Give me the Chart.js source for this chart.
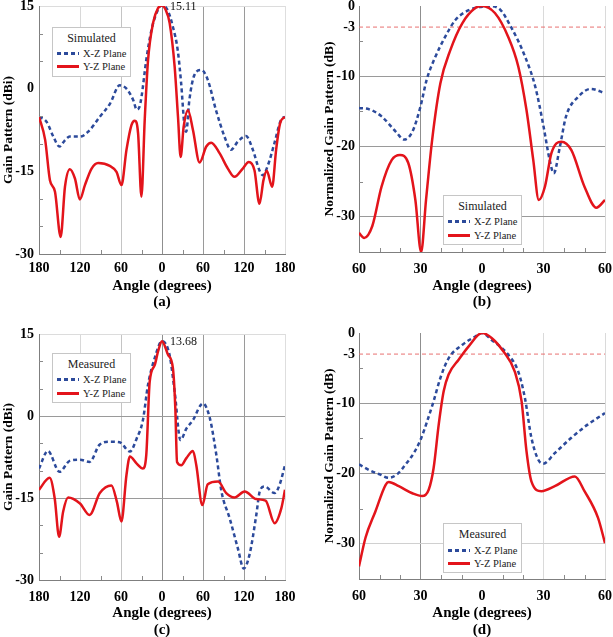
<!DOCTYPE html>
<html>
<head>
<meta charset="utf-8">
<script src="https://cdn.jsdelivr.net/npm/chart.js@4.4.1/dist/chart.umd.min.js"></script>
<style>
  body { margin: 0; background: #fff; width: 613px; height: 637px; position: relative; overflow: hidden;
         font-family: "Liberation Serif", "Times New Roman", serif; }
  canvas { position: absolute; }
  .legend { position: absolute; width: 77px; height: 48px; border: 1px solid #c6c6c6; background: #fff; color: #222; }
  .lg-title { position: absolute; left: 0; right: 0; top: 3px; text-align: center; font-size: 12px; line-height: 14px; }
  .lg-row { position: absolute; left: 4px; height: 13px; font-size: 10.5px; line-height: 13px; white-space: nowrap; }
  .lg-row span { position: absolute; left: 26px; top: 0; }
  .sw { position: absolute; left: 0; top: 5px; width: 22px; height: 3px; }
  .dash { background: repeating-linear-gradient(90deg, #2c4a9b 0 4px, transparent 4px 7px); }
  .solid { background: #e3141b; }
</style>
</head>
<body>
<canvas id="cA" width="300" height="310" style="left:0;top:0"></canvas>
<canvas id="cB" width="313" height="310" style="left:300px;top:0"></canvas>
<canvas id="cC" width="300" height="321" style="left:0;top:318px"></canvas>
<canvas id="cD" width="313" height="321" style="left:300px;top:318px"></canvas>

<div class="legend" style="left:52px;top:27px">
  <div class="lg-title">Simulated</div>
  <div class="lg-row" style="top:19px"><i class="sw dash"></i><span>X-Z Plane</span></div>
  <div class="lg-row" style="top:32px"><i class="sw solid"></i><span>Y-Z Plane</span></div>
</div>
<div class="legend" style="left:443px;top:195px">
  <div class="lg-title">Simulated</div>
  <div class="lg-row" style="top:19px"><i class="sw dash"></i><span>X-Z Plane</span></div>
  <div class="lg-row" style="top:33px"><i class="sw solid"></i><span>Y-Z Plane</span></div>
</div>
<div class="legend" style="left:52px;top:353px">
  <div class="lg-title">Measured</div>
  <div class="lg-row" style="top:19px"><i class="sw dash"></i><span>X-Z Plane</span></div>
  <div class="lg-row" style="top:33px"><i class="sw solid"></i><span>Y-Z Plane</span></div>
</div>
<div class="legend" style="left:443px;top:523px">
  <div class="lg-title">Measured</div>
  <div class="lg-row" style="top:20px"><i class="sw dash"></i><span>X-Z Plane</span></div>
  <div class="lg-row" style="top:33px"><i class="sw solid"></i><span>Y-Z Plane</span></div>
</div>

<script>
// (a) simulated gain, full circle
const angA_xz = [-180, -169, -159, -150, -143, -135, -120, -108, -91, -76, -62, -52, -42, -37, -33, -30, -23, -15.5, -6, 0,
  8, 16, 23, 28, 33, 35.5, 40, 47.5, 57.5, 67, 79, 91.5, 101, 111, 123, 133, 142.5, 147.5, 155, 164.5, 174, 180];
const gainA_xz = [-5.1, -6.0, -8.7, -10.5, -9.5, -8.7, -8.7, -7.8, -5.1, -2.7, 0.6, 0.0, -2.1, -3.8, -3.3, -1.5, 5.2, 10.6, 14.3, 15.11,
  14.3, 11.2, 7.0, 1.0, -6.9, -7.8, -2.1, 2.5, 3.4, 1.6, -3.9, -8.7, -11.1, -9.6, -8.6, -11.1, -14.8, -15.7, -13.9, -9.9, -5.7, -5.1];
const angA_yz = [-180, -171, -164, -156.6, -148.3, -142, -134.8, -127.4, -120.2, -112.8, -103, -93.4, -76.4, -66.6, -59.3, -52, -44.7, -39.9, -35, -30.1, -25.3, -20.4, -13.1, -5.8, 0,
  5, 11.2, 18.5, 23.4, 27.3, 31.7, 38, 45.3, 55, 64.8, 72.1, 84.2, 96.4, 106.1, 118.2, 127, 135.3, 142.6, 148.5, 153.3, 161.2, 167, 172.8, 180];
const gainA_yz = [-5.1, -9.3, -16.6, -18.7, -26.9, -17.8, -14.6, -16.3, -20.1, -17.5, -14.5, -13.5, -14.0, -15.1, -17.5, -11.1, -6.6, -5.8, -8.1, -19.6, -5.7, 5.2, 11.9, 14.6, 15.11,
  14.4, 11.9, 4.0, -5.1, -12.4, -6.9, -3.9, -7.5, -13.4, -10.5, -9.8, -11.7, -14.5, -16.0, -14.5, -13.3, -14.8, -20.9, -16.6, -14.9, -17.8, -11.1, -6.3, -5.1];

// (b) simulated normalized gain, +-60 deg
const angB_xz = [-60, -55, -49, -42, -38, -34, -30, -27, -23, -18, -13, -6.5, 0, 3, 8, 14, 21, 26, 30, 33, 35, 38, 41, 47, 53, 60];
const gainB_xz = [-14.5, -14.7, -15.7, -17.9, -19.0, -17.9, -14.3, -10.5, -7.4, -4.4, -2.0, -0.6, -0.1, 0, -0.3, -2.9, -7.2, -11.5, -17.1, -21.9, -23.8, -20.0, -15.7, -12.9, -11.8, -12.4];
const angB_yz = [-60, -57.5, -53.5, -49, -44, -40, -36, -32.5, -29.7, -27.3, -24.3, -20.3, -15.4, -9.7, -3.3, 0, 6.3, 12.8, 17.7, 21.7, 25, 27.7, 30.7, 33.9, 38.7, 43.6, 50, 55.8, 60];
const gainB_yz = [-32.3, -33.0, -31.3, -25.7, -21.9, -21.2, -22.3, -27.6, -35, -27.6, -19.0, -11.0, -6.25, -2.5, -0.3, 0, -1.0, -4.4, -8.6, -14.8, -21.9, -27.6, -25.7, -20.9, -19.3, -20.5, -25.7, -28.7, -27.6];

// (c) measured gain, full circle
const angC_xz = [-180, -167, -150, -135, -120, -106, -91, -76, -62, -47, -37, -28, -20.5, -10.7, 0, 11, 18.6, 27, 35.7, 45, 60, 70, 79.5, 87, 99, 111, 119.5, 128, 138, 143, 150, 165, 172, 180];
const gainC_xz = [-9.6, -6.4, -10.2, -8.2, -8.0, -8.4, -5.2, -4.7, -4.8, -6.5, -4.1, -0.8, 5.7, 10.6, 13.68, 11.2, 4.4, -4.4, -2.3, -0.8, 2.3, -0.4, -7.1, -13.8, -18.7, -24.2, -27.9, -25.4, -18.1, -13.8, -12.9, -14.1, -12.6, -9.0];
const angC_yz = [-180, -164.5, -157, -150.6, -144.7, -137.4, -120, -106, -91, -74, -66, -59.4, -52, -47, -37, -28, -23, -18, -10.7, -5.8, 0,
  8.8, 16, 19.5, 22, 28.3, 35.7, 45.3, 50.2, 59, 67, 82, 94, 106, 121, 138, 151.6, 164.8, 174.6, 180];
const gainC_yz = [-13.5, -11.3, -15.1, -22.1, -17.5, -14.9, -16.0, -18.1, -14.1, -12.7, -15.7, -19.3, -10.8, -7.4, -8.7, -9.6, -7.1, 6.3, 9.3, 11.8, 13.68,
  11.2, 8.7, 1.4, -8.4, -9.0, -7.7, -6.4, -9.0, -16.3, -12.5, -12.0, -14.1, -14.9, -13.8, -15.2, -15.5, -19.6, -16.9, -13.5];

// (d) measured normalized gain, +-60 deg
const angD_xz = [-60, -55, -50, -45.5, -41.4, -37.3, -33.3, -30, -26.8, -23.6, -20.3, -16.3, -9.7, -3.3, 0, 4.7, 12.8, 17.7, 20.9, 24.1, 27.4, 29.8, 35.5, 43.6, 51.7, 60];
const gainD_xz = [-18.7, -19.5, -20.1, -20.6, -20.1, -18.7, -17.1, -15.2, -12.6, -9.7, -6.4, -3.6, -1.7, -0.5, 0, -1.0, -3.1, -5.5, -9.2, -14.9, -18.0, -18.6, -17.1, -14.9, -13.0, -11.4];
const angD_yz = [-60, -56.8, -52, -47, -45.5, -40.6, -34, -29.2, -26, -23.6, -21.1, -18.7, -16.3, -11.4, -6.5, 0, 4.7, 10.4, 16, 19.3, 21.7, 24.1, 29, 35.5, 45.3, 50, 56.6, 60];
const gainD_yz = [-33.2, -29.1, -25.4, -21.6, -21.2, -21.8, -22.8, -23.2, -22.3, -19.2, -13.0, -8.3, -5.9, -3.8, -1.9, 0, -0.7, -2.6, -5.5, -9.7, -16.8, -21.1, -22.5, -21.8, -20.4, -22.5, -26.3, -29.9];

// axis ticks
const gainTicks = [-30, -15, 0, 15];
const normTicks = [0, -3, -10, -20, -30];
const halfPower = -3;
const normSpan = [-60, 60];
const minorFullX = [-150, -90, -30, 30, 90, 150];
const minorFullY = [10, 5, -5, -10, -20, -25];
const minorNormX = [-50, -40, -20, -10, 10, 20, 40, 50];
const minorNormY = [-5, -15, -25];

const FONT = '"Liberation Serif", "Times New Roman", serif';
const RED = '#e3141b';
const BLUE = '#2c4a9b';

// short inward minor ticks on left and bottom axes
const minorTicks = {
  id: 'minorTicks',
  afterDraw(chart, args, opts) {
    const { ctx, chartArea: ca, scales: { x, y } } = chart;
    ctx.save();
    ctx.strokeStyle = '#8a8a8a';
    ctx.lineWidth = 1;
    ctx.beginPath();
    (opts.x || []).forEach(v => {
      const px = Math.round(x.getPixelForValue(v)) + 0.5;
      ctx.moveTo(px, ca.bottom); ctx.lineTo(px, ca.bottom - 4);
    });
    (opts.y || []).forEach(v => {
      const py = Math.round(y.getPixelForValue(v)) + 0.5;
      ctx.moveTo(ca.left, py); ctx.lineTo(ca.left + 4, py);
    });
    ctx.stroke();
    ctx.restore();
  }
};

// peak value next to the main lobe
const peakLabel = {
  id: 'peakLabel',
  afterDatasetsDraw(chart, args, opts) {
    if (opts.value === undefined) return;
    const { ctx, scales: { x, y } } = chart;
    ctx.save();
    ctx.font = '12px ' + FONT;
    ctx.fillStyle = '#111';
    ctx.textBaseline = 'middle';
    ctx.fillText(opts.value.toFixed(2), x.getPixelForValue(0) + 8, y.getPixelForValue(opts.value) + 1);
    ctx.restore();
  }
};
Chart.register(minorTicks, peakLabel);

function pts(angles, gains) {
  return angles.map((a, i) => ({ x: a, y: gains[i] }));
}

function curves(xzA, xzG, yzA, yzG, withHalfPower) {
  const sets = [
    { data: pts(yzA, yzG), borderColor: RED, borderWidth: 2.5 },
    { data: pts(xzA, xzG), borderColor: BLUE, borderWidth: 2.5, borderDash: [4, 3] }
  ];
  if (withHalfPower) {
    sets.push({ data: normSpan.map(a => ({ x: a, y: halfPower })), borderColor: '#e87070', borderWidth: 1, borderDash: [4, 3] });
  }
  return sets.map(s => Object.assign({ pointRadius: 0, cubicInterpolationMode: 'monotone', fill: false }, s));
}

function gridFrom(map) {
  return c => (c.tick && map[c.tick.value]) || 'rgba(0,0,0,0)';
}

function panel(id, o) {
  const tickFont = { family: FONT, size: 14, weight: 'bold' };
  const titleFont = { family: FONT, size: 15, weight: 'bold', lineHeight: o.lh / 15 };
  return new Chart(document.getElementById(id), {
    type: 'line',
    data: { datasets: o.datasets },
    options: {
      responsive: false,
      animation: false,
      layout: { padding: o.pad },
      plugins: {
        legend: { display: false },
        tooltip: { enabled: false },
        minorTicks: o.minor,
        peakLabel: o.peak === undefined ? {} : { value: o.peak }
      },
      scales: {
        x: {
          type: 'linear', min: o.xMin, max: o.xMax,
          ticks: { stepSize: o.xStep, padding: o.xPad, font: tickFont, color: '#000', maxRotation: 0, autoSkip: false,
                   callback: v => Math.abs(v) },
          grid: { drawTicks: false, color: gridFrom(o.xGrid) },
          border: { color: '#7f7f7f' },
          title: { display: true, text: ['Angle (degrees)', o.caption], font: titleFont, color: '#000', padding: { top: 0, bottom: 0 } },
          afterFit: s => { s.height = o.xH; s.paddingLeft = 0; s.paddingRight = 0; }
        },
        y: {
          type: 'linear', min: o.yMin, max: o.yMax,
          afterBuildTicks: s => { s.ticks = o.yTicks.map(v => ({ value: v })); },
          ticks: { padding: o.yPad, font: tickFont, color: '#000' },
          grid: { drawTicks: false, color: gridFrom(o.yGrid) },
          border: { color: '#7f7f7f' },
          title: { display: true, text: o.yTitle, font: { family: FONT, size: 13.5, weight: 'bold' }, color: '#000',
                   padding: { top: o.yTitlePad, bottom: 0 } },
          afterFit: s => { s.width = o.yW; s.paddingTop = 0; s.paddingBottom = 0; }
        }
      }
    }
  });
}

const fullGrid = { '-120': '#d8d8d8', '-60': '#c4c4c4', '0': '#8f8f8f', '60': '#9a9a9a', '120': '#9a9a9a', '180': '#dedede' };
const normXGrid = { '-30': '#8f8f8f', '30': '#dadada', '60': '#dadada' };

panel('cA', {
  datasets: curves(angA_xz, gainA_xz, angA_yz, gainA_yz, false),
  pad: { left: 0, top: 6, right: 15, bottom: 0 },
  xMin: -180, xMax: 180, xStep: 60, xPad: 6, xH: 56, lh: 16, caption: '(a)', xGrid: fullGrid,
  yMin: -30, yMax: 15, yTicks: gainTicks, yPad: 5, yW: 39, yTitle: 'Gain Pattern (dBi)', yTitlePad: 0,
  yGrid: { '15': '#dcdcdc' },
  minor: { x: minorFullX, y: minorFullY }, peak: 15.11
});

panel('cB', {
  datasets: curves(angB_xz, gainB_xz, angB_yz, gainB_yz, true),
  pad: { left: 0, top: 6, right: 8, bottom: 0 },
  xMin: -60, xMax: 60, xStep: 30, xPad: 9, xH: 58, lh: 16, caption: '(b)', xGrid: normXGrid,
  yMin: -35, yMax: 0, yTicks: normTicks, yPad: 4, yW: 59, yTitle: 'Normalized Gain Pattern (dB)', yTitlePad: 21,
  yGrid: { '-10': '#9a9a9a', '-20': '#9a9a9a', '-30': '#9a9a9a' },
  minor: { x: minorNormX, y: minorNormY }
});

panel('cC', {
  datasets: curves(angC_xz, gainC_xz, angC_yz, gainC_yz, false),
  pad: { left: 0, top: 16, right: 15, bottom: 0 },
  xMin: -180, xMax: 180, xStep: 60, xPad: 9, xH: 59, lh: 17, caption: '(c)', xGrid: fullGrid,
  yMin: -30, yMax: 15, yTicks: gainTicks, yPad: 5, yW: 39, yTitle: 'Gain Pattern (dBi)', yTitlePad: 0,
  yGrid: { '15': '#dcdcdc', '0': '#9a9a9a', '-15': '#9a9a9a' },
  minor: { x: minorFullX, y: minorFullY }, peak: 13.68
});

panel('cD', {
  datasets: curves(angD_xz, gainD_xz, angD_yz, gainD_yz, true),
  pad: { left: 0, top: 15, right: 8, bottom: 0 },
  xMin: -60, xMax: 60, xStep: 30, xPad: 9, xH: 60, lh: 17, caption: '(d)', xGrid: normXGrid,
  yMin: -35, yMax: 0, yTicks: normTicks, yPad: 4, yW: 59, yTitle: 'Normalized Gain Pattern (dB)', yTitlePad: 21,
  yGrid: { '-10': '#9a9a9a', '-20': '#9a9a9a', '-30': '#d0d0d0' },
  minor: { x: minorNormX, y: minorNormY }
});
</script>
</body>
</html>
